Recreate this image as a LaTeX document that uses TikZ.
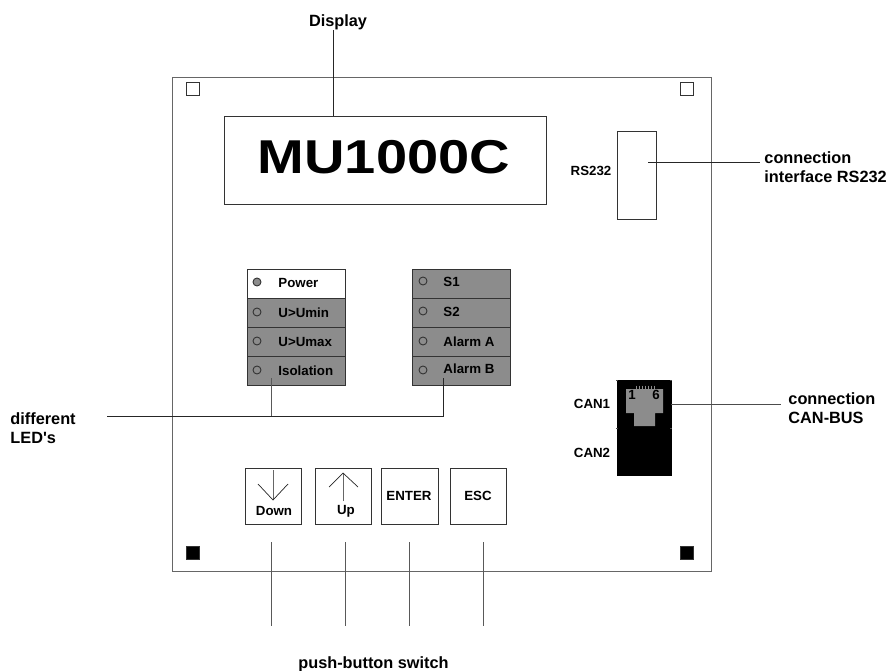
\documentclass[tikz,border=0pt]{standalone}
\usepackage{fontspec}
\setmainfont{Liberation Sans}
\newfontfamily\plainquote{Liberation Sans}
\begin{document}
\begin{tikzpicture}[x=1pt,y=-1pt,
  line width=0.9pt,
  lbl/.style={font=\fontsize{16.3}{19}\selectfont\bfseries,inner sep=0pt,align=left},
  sml/.style={font=\fontsize{13.3}{15}\selectfont\bfseries,inner sep=0pt},
  box/.style={draw=black!80,fill=white,inner sep=0pt,outer sep=0pt},
  lead/.style={draw=black!85},
  row/.style={box,minimum width=98pt,minimum height=29pt},
  rowoff/.style={row,fill=black!45},
  led/.style={circle,draw=black!80,inner sep=0pt,outer sep=0pt,minimum size=8pt},
  corner/.style={draw=black!80,inner sep=0pt,outer sep=0pt,minimum size=13pt},
  keybox/.style={box,minimum width=56pt,minimum height=56pt}]
\useasboundingbox (0,0) rectangle (886,671);
% board
\node[box,draw=black!60,minimum width=539pt,minimum height=494pt] (board) at (441.5,324) {};
\node[corner] (c1) at (192.5,88.5) {};
\node[corner] (c2) at (686.5,88.5) {};
\node[corner,fill=black] (c3) at (192.5,552.5) {};
\node[corner,fill=black] (c4) at (686.5,552.5) {};
% display
\node[box,minimum width=322pt,minimum height=88pt] (disp) at (385,160) {};
\node[inner sep=0pt,font=\fontsize{47.5}{50}\selectfont\bfseries] (disptext) at (384,157) {\scalebox{1.18}[1]{MU1000C}};
\node[lbl] (displbl) at (338,22) {Display};
\coordinate (dispfoot) at (333,30);
\draw[lead] (dispfoot) -- (333,116);
% RS232
\node[box,minimum width=39pt,minimum height=88pt] (rs) at (636.5,175) {};
\node[sml] (rslbl) at (591,171) {RS232};
\node[lbl,anchor=west] (rsout) at (764,167) {connection\\interface RS232};
\coordinate (rsa) at (648,162);
\coordinate (rsb) at (760,162);
\draw[lead] (rsa) -- (rsb);
% LEDs left
\node[row] (l1) at (296,283.5) {};
\node[rowoff] (l2) at (296,312.5) {};
\node[rowoff] (l3) at (296,341.5) {};
\node[rowoff] (l4) at (296,370.5) {};
\node[led,fill=black!45] (ld1) at (257,282) {};
\node[led] (ld2) at (257,312) {};
\node[led] (ld3) at (257,341) {};
\node[led] (ld4) at (257,370) {};
\node[sml,anchor=west] at (278,283) {Power};
\node[sml,anchor=west] at (278,313) {U>Umin};
\node[sml,anchor=west] at (278,342) {U>Umax};
\node[sml,anchor=west] at (278,371) {Isolation};
% LEDs right
\node[rowoff] (r1) at (461,283.5) {};
\node[rowoff] (r2) at (461,312.5) {};
\node[rowoff] (r3) at (461,341.5) {};
\node[rowoff] (r4) at (461,370.5) {};
\node[led] (rd1) at (423,281) {};
\node[led] (rd2) at (423,311) {};
\node[led] (rd3) at (423,341) {};
\node[led] (rd4) at (423,370) {};
\node[sml,anchor=west] at (443,282) {S1};
\node[sml,anchor=west] at (443,312) {S2};
\node[sml,anchor=west] at (443,342) {Alarm A};
\node[sml,anchor=west] at (443,369) {Alarm B};
% LED leader
\node[lbl,anchor=west] (ledlbl) at (10,428) {different\\{\plainquote\bfseries LED's}};
\coordinate (ledl) at (107,416);
\coordinate (ledm) at (271,416);
\coordinate (ledr) at (443,416);
\coordinate (ledmt) at (271,378);
\coordinate (ledrt) at (443,378);
\draw[lead] (ledl) -- (ledr) -- (ledrt);
\draw[draw=black!65] (ledm) -- (ledmt);
% CAN
\node[draw=black,fill=black,inner sep=0pt,minimum width=54pt,minimum height=95pt] (can) at (644,427.5) {};
\draw[black!70,line width=0.5pt] (616,380) -- (618,380) (670,380) -- (672,380) (616,428) -- (618,428) (670,428) -- (672,428);
\fill[black!45] (626,389) -- (663,389) -- (663,413) -- (655,413) -- (655,426) -- (634,426) -- (634,413) -- (626,413) -- cycle;
\foreach \x in {636,639,642,645,648,651,654}{\draw[black!45,line width=0.8pt] (\x,385.5) -- (\x,390);}
\node[sml] (pin1) at (632,395) {1};
\node[sml] (pin6) at (656,395) {6};
\node[sml] (can1) at (592,404) {CAN1};
\node[sml] (can2) at (592,453) {CAN2};
\node[lbl,anchor=west] (canout) at (788,408) {connection\\CAN-BUS};
\coordinate (cana) at (671,404);
\coordinate (canb) at (781,404);
\draw[draw=black!70] (cana) -- (canb);
% keys
\node[keybox] (down) at (273,496) {};
\node[keybox] (up) at (343,496) {};
\node[keybox,minimum width=57pt] (enter) at (409.5,496) {};
\node[keybox] (esc) at (478,496) {};
\node[sml] at (274,511) {Down};
\node[sml] at (346,511) {Up};
\node[sml] at (409,496) {ENTER};
\node[sml] at (478,496) {ESC};
\coordinate (dt) at (273,470);
\coordinate (db) at (273,500);
\coordinate (dl) at (258,484);
\coordinate (dr) at (288,484);
\draw[draw=black!60] (dt) -- (db);
\draw[lead,line width=0.7pt] (dl) -- (db) -- (dr);
\coordinate (ut) at (343,473);
\coordinate (ub) at (343,501);
\coordinate (ul) at (329,487);
\coordinate (ur) at (358,487);
\draw[draw=black!60] (ub) -- (ut);
\draw[lead,line width=0.7pt] (ul) -- (ut) -- (ur);
% key leaders
\foreach \n/\x in {a/271,b/345,c/409,d/483}{
  \coordinate (k\n t) at (\x,542);
  \coordinate (k\n b) at (\x,626);
  \draw[draw=black!65] (k\n t) -- (k\n b);
}
\node[lbl] (pb) at (373.5,664) {push-button switch};
\end{tikzpicture}
\end{document}
